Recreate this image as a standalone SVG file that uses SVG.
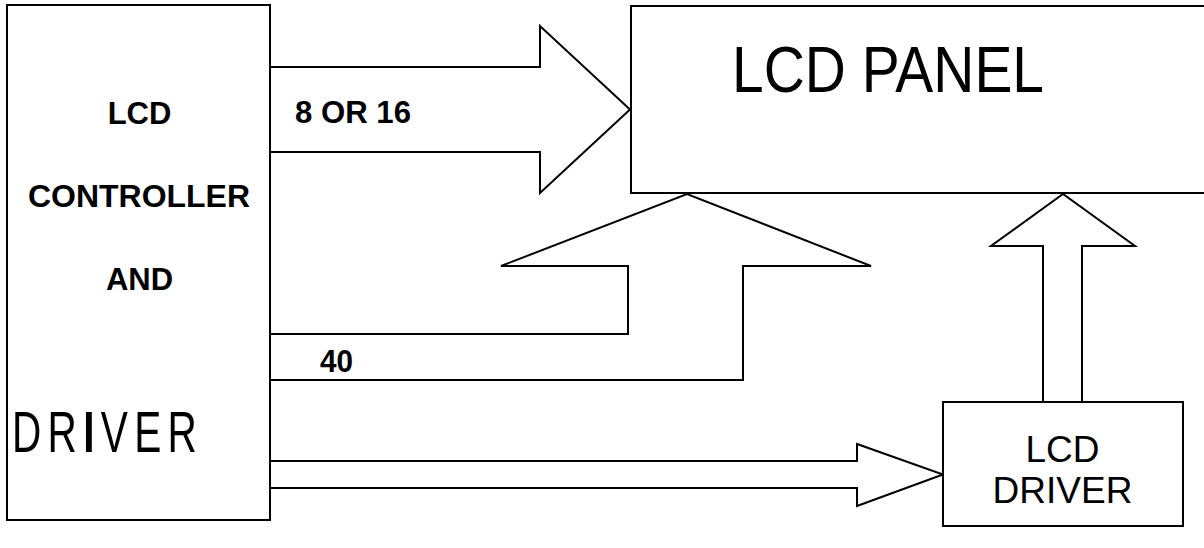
<svg xmlns="http://www.w3.org/2000/svg" width="1204" height="548" viewBox="0 0 1204 548">
<style>
.box{fill:#fff;stroke:#000;stroke-width:2}
.arr{fill:#fff;stroke:#000;stroke-width:2;stroke-linejoin:miter}
.b{font-family:"Liberation Sans",Arial,sans-serif;font-weight:bold;font-size:31px;fill:#000}
.r{font-family:"Liberation Sans",Arial,sans-serif;font-size:37px;fill:#000}
</style>
<rect x="0" y="0" width="1204" height="548" fill="#fff"/>
<g id="connectors">
<path class="arr" d="M270,67 H540 V26 L630,109.5 L540,193 V152 H270"/>
<path class="arr" d="M270,334 H628 V266 H501 L687,194 L871,266 H743 V380 H270"/>
<path class="arr" d="M1043,402 V246 H991 L1063,194 L1135,246 H1082 V402"/>
<path class="arr" d="M270,461 H857 V444 L943,474.5 L857,506 V488 H270"/>
<text class="b" x="295" y="123" textLength="116" lengthAdjust="spacingAndGlyphs">8 OR 16</text>
<text class="b" x="320" y="372" textLength="33" lengthAdjust="spacingAndGlyphs">40</text>
</g>
<g id="controller">
<rect class="box" x="7" y="5" width="263" height="515"/>
<text class="b" x="139.5" y="124" text-anchor="middle">LCD</text>
<text class="b" x="139" y="207" text-anchor="middle" textLength="222" lengthAdjust="spacingAndGlyphs">CONTROLLER</text>
<text class="b" x="139.5" y="290" text-anchor="middle">AND</text>
<text transform="translate(12,452) scale(0.7,1)" x="0" y="0" letter-spacing="9" style="font-family:'Liberation Sans',Arial,sans-serif;font-size:58px;fill:#000">DR<tspan font-weight="bold">I</tspan>VER</text>
</g>
<g id="lcd-panel">
<rect class="box" x="631" y="6" width="590" height="187"/>
<text x="732" y="92" textLength="312" lengthAdjust="spacingAndGlyphs" style="font-family:'Liberation Sans',Arial,sans-serif;font-size:65px;fill:#000">LCD PANEL</text>
</g>
<g id="lcd-driver">
<rect class="box" x="943" y="402" width="240" height="124"/>
<text class="r" x="1062.5" y="462" text-anchor="middle">LCD</text>
<text class="r" x="1062.5" y="503" text-anchor="middle">DRIVER</text>
</g>
</svg>
